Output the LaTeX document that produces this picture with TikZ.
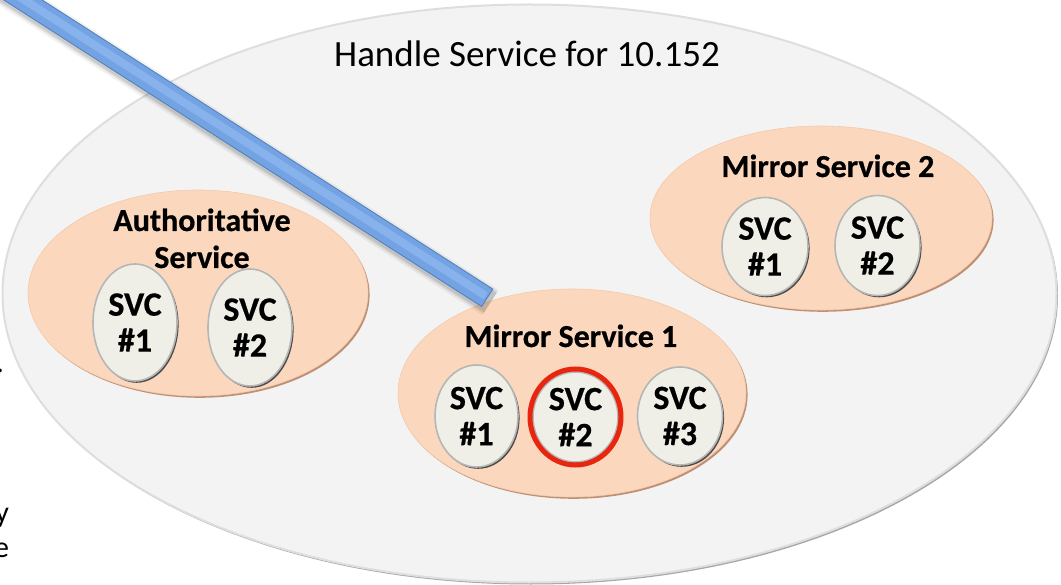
\documentclass[tikz,border=0pt]{standalone}
\usepackage{fontspec}
\setmainfont{Carlito}[BoldFeatures={FakeBold=0.6}]
\usetikzlibrary{shapes.geometric,calc}

\definecolor{bgfill}{HTML}{F3F3F3}
\definecolor{bgedge}{HTML}{DEDEDE}
\definecolor{bgshade}{HTML}{A6A6A6}
\definecolor{peach}{HTML}{FBD8BD}
\definecolor{peachedge}{HTML}{F3C9AB}
\definecolor{peachshade}{HTML}{BF8F74}
\definecolor{svcfill}{HTML}{EFEFE8}
\definecolor{svcedge}{HTML}{B6B6B6}
\definecolor{svcshade}{HTML}{4A4A4A}
\definecolor{hilite}{HTML}{E8260F}
\definecolor{barblue}{HTML}{74A3E4}
\definecolor{barlight}{HTML}{90B9F0}
\definecolor{baredge}{HTML}{4F81BD}

\begin{document}
\begin{tikzpicture}[x=1pt,y=-1pt,
  every node/.style={inner sep=0pt, outer sep=0pt},
  realm/.style={ellipse, fill=bgfill, draw=bgedge, line width=2pt,
    preaction={fill=bgshade, transform canvas={shift={(1.5pt,-2pt)}}}},
  group/.style={ellipse, fill=peach, draw=peachedge, line width=0.6pt,
    preaction={fill=peachshade, transform canvas={shift={(1.6pt,-1.8pt)}}}},
  svc/.style={ellipse, align=center, fill=svcfill, draw=svcedge, line width=1.6pt,
    font=\fontsize{34}{36}\selectfont\bfseries,
    preaction={fill=svcshade, transform canvas={shift={(1.6pt,-1.8pt)}}}},
  grouplabel/.style={anchor=base, align=center,
    font=\fontsize{32}{37}\selectfont\bfseries},
  fragment/.style={anchor=base east, font=\fontsize{30}{36}\selectfont},
]
\fill[white] (0,0) rectangle (1061,585);
\useasboundingbox (0,0) rectangle (1061,585);

% cut-off text at the left margin
\node[fragment] (frag1) at (4,373) {.};
\node[fragment] (frag2) at (9,522) {y};
\node[fragment] (frag3) at (9,557) {e};

% handle service realm
\node[realm, minimum width=1054pt, minimum height=578pt] (hs) at (529.5,293.5) {};
\node[anchor=base, font=\fontsize{37}{44}\selectfont] (title) at (527,67)
  {Handle Service for 10.152};

% service groups
\node[group, minimum width=340pt, minimum height=206pt] (auth) at (198,293) {};
\node[group, minimum width=348pt, minimum height=208pt] (ms1) at (572,393) {};
\node[group, minimum width=342pt, minimum height=184pt] (ms2) at (821,218) {};

% the base anchor of a two-line label sits on its last line
\node[grouplabel] (authlbl) at (202,268) {Authoritative\\Service};
\node[grouplabel] (ms1lbl) at (571,347) {Mirror Service 1};
\node[grouplabel] (ms2lbl) at (828,177) {Mirror Service 2};

% service instances
\node[svc, minimum width=84pt, minimum height=117pt] (a1) at (135,322.5) {SVC\\\#1};
\node[svc, minimum width=84pt, minimum height=117pt] (a2) at (250,327.5) {SVC\\\#2};

\node[svc, minimum width=83pt, minimum height=102pt] (m11) at (476.5,416) {SVC\\\#1};
\node[svc, minimum width=85pt, minimum height=90pt] (m12) at (575.5,417) {SVC\\\#2};
\node[svc, minimum width=85pt, minimum height=98pt] (m13) at (680,416) {SVC\\\#3};

\node[svc, minimum width=86pt, minimum height=98pt] (m21) at (765,246.5) {SVC\\\#1};
\node[svc, minimum width=85pt, minimum height=100pt] (m22) at (877.5,245.5) {SVC\\\#2};

% highlighted instance
\draw[hilite, line width=5pt] (m12.center) ellipse [x radius=45.5, y radius=48];

% incoming link
\coordinate (feed) at (-30,-34);
\foreach \w/\o in {30/0.05, 26/0.07, 23/0.09}
  \draw[line width=\w pt, black, opacity=\o, shorten >=4pt,
        transform canvas={shift={(2pt,-4pt)}}] (feed) -- (ms1.131);
\draw[line width=21.6pt, baredge, shorten >=5pt] (feed) -- (ms1.131);
\draw[line width=19.6pt, barblue, shorten >=6pt] (feed) -- (ms1.131);
\draw[line width=8pt, barlight, opacity=0.7, shorten >=6pt,
      transform canvas={shift={(-1pt,1.5pt)}}] (feed) -- (ms1.131);
\end{tikzpicture}
\end{document}
